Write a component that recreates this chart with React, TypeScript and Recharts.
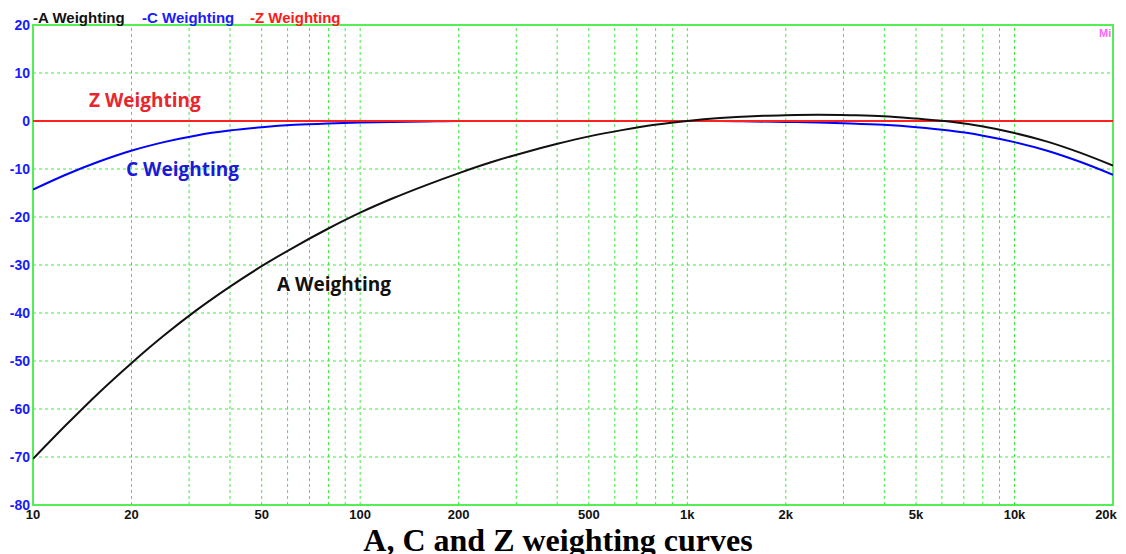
import { LineChart, Line, XAxis, YAxis, ReferenceLine, ReferenceArea } from 'recharts';

// 1/3-octave frequencies (Hz, exact base-10 bands)
const freqs = [
  10, 12.59, 15.85, 19.95, 25.12, 31.62, 39.81, 50.12, 63.1, 79.43, 100, 125.9, 158.5, 199.5, 251.2,
  316.2, 398.1, 501.2, 631, 794.3, 1000, 1259, 1585, 1995, 2512, 3162, 3981, 5012, 6310, 7943,
  10000, 12590, 15850, 20000,
];
const aWeight = [
  -70.4, -63.4, -56.7, -50.5, -44.7, -39.4, -34.6, -30.2, -26.2, -22.5, -19.1, -16.1, -13.4, -10.9,
  -8.6, -6.6, -4.8, -3.2, -1.9, -0.8, 0, 0.6, 1.0, 1.2, 1.3, 1.2, 1.0, 0.5, -0.1, -1.1, -2.5, -4.3,
  -6.6, -9.3,
];
const cWeight = [
  -14.3, -11.2, -8.5, -6.2, -4.4, -3.0, -2.0, -1.3, -0.8, -0.5, -0.3, -0.2, -0.1, 0, 0, 0, 0, 0, 0,
  0, 0, 0, -0.1, -0.2, -0.3, -0.5, -0.8, -1.3, -2.0, -3.0, -4.4, -6.2, -8.5, -11.2,
];
const zWeight = freqs.map(() => 0);

const xTicks = [10, 20, 50, 100, 200, 500, 1000, 2000, 5000, 10000, 20000];
const xTickLabels = ['10', '20', '50', '100', '200', '500', '1k', '2k', '5k', '10k', '20k'];
const yTicks = [-80, -70, -60, -50, -40, -30, -20, -10, 0, 10, 20];

const chartData = freqs.map((f, i) => ({ f, a: aWeight[i], c: cWeight[i], z: zWeight[i] }));

// minor grid: 20..90, 100..900, 1k..9k, 10k
const gridFreqs: number[] = [];
[10, 100, 1000].forEach((d) => {
  for (let m = 2; m <= 10; m++) gridFreqs.push(d * m);
});
const gridLevels = [-70, -60, -50, -40, -30, -20, -10, 10];

const GRID = '#3cee3c';
const SANS = '"Liberation Sans", Arial, sans-serif';

const XTick = (props: any) => {
  const { x, payload } = props;
  const idx = xTicks.indexOf(payload.value);
  return (
    <text x={x} y={519} textAnchor="middle" fontFamily={SANS} fontWeight="bold" fontSize={13} fill="#111">
      {xTickLabels[idx]}
    </text>
  );
};

const YTick = (props: any) => {
  const { y, payload } = props;
  return (
    <text x={30} y={y + 5} textAnchor="end" fontFamily={SANS} fontWeight="bold" fontSize={14} fill="#1a1aff">
      {payload.value}
    </text>
  );
};

const labelStyle = {
  position: 'absolute' as const,
  fontFamily: '"Open Sans", sans-serif',
  fontWeight: 'bold' as const,
  fontSize: 19,
  lineHeight: '19px',
  whiteSpace: 'nowrap' as const,
};

export default function App() {
  return (
    <div style={{ position: 'absolute', left: 0, top: 0, width: 1126, height: 554, background: '#fff', overflow: 'hidden' }}>
      <LineChart width={1126} height={554} data={chartData} margin={{ top: 25, right: 13, bottom: 0, left: 0 }}>
        <XAxis
          dataKey="f"
          type="number"
          scale="log"
          domain={[10, 20000]}
          ticks={xTicks}
          tick={<XTick />}
          tickLine={false}
          axisLine={false}
          height={49}
          allowDataOverflow
        />
        <YAxis
          type="number"
          domain={[-80, 20]}
          ticks={yTicks}
          tick={<YTick />}
          tickLine={false}
          axisLine={false}
          width={33}
          interval={0}
        />
        {gridLevels.map((v) => (
          <ReferenceLine key={'h' + v} y={v} stroke={GRID} strokeDasharray="3 3" strokeWidth={1} />
        ))}
        {gridFreqs.map((f) => (
          <ReferenceLine key={'v' + f} x={f} stroke={GRID} strokeDasharray="3 3" strokeWidth={1} />
        ))}
        <ReferenceArea x1={10} x2={20000} y1={-80} y2={20} stroke="#55ee55" strokeWidth={2} fill="none" fillOpacity={0} />
        <Line dataKey="c" type="monotone" stroke="#0000ff" strokeWidth={2} dot={false} isAnimationActive={false} />
        <Line dataKey="z" type="linear" stroke="#ff2020" strokeWidth={2} dot={false} isAnimationActive={false} />
        <Line dataKey="a" type="monotone" stroke="#111" strokeWidth={2} dot={false} isAnimationActive={false} />
      </LineChart>

      {/* legend */}
      <div style={{ position: 'absolute', top: 10, left: 33, fontFamily: SANS, fontWeight: 'bold', fontSize: 15, lineHeight: '16px', whiteSpace: 'nowrap' }}>
        <span style={{ position: 'absolute', left: 0, color: '#111' }}>-A Weighting</span>
        <span style={{ position: 'absolute', left: 109, color: '#1a1aff' }}>-C Weighting</span>
        <span style={{ position: 'absolute', left: 217, color: '#ff1a1a' }}>-Z Weighting</span>
      </div>
      <div style={{ position: 'absolute', top: 27, left: 1099, fontFamily: SANS, fontWeight: 'bold', fontSize: 11, color: '#ff66ff' }}>Mi</div>

      {/* curve annotations */}
      <div style={{ ...labelStyle, left: 89, top: 91, color: '#e8262e' }}>Z Weighting</div>
      <div style={{ ...labelStyle, left: 126, top: 160, color: '#1a1ad8' }}>C Weighting</div>
      <div style={{ ...labelStyle, left: 277, top: 275, color: '#111' }}>A Weighting</div>

      {/* caption */}
      <div
        style={{
          position: 'absolute',
          left: 0,
          width: 1116,
          top: 522,
          textAlign: 'center',
          fontFamily: '"Liberation Serif", "Times New Roman", serif',
          fontWeight: 'bold',
          fontSize: 32,
          lineHeight: '36px',
          color: '#000',
        }}
      >
        A, C and Z weighting curves
      </div>
    </div>
  );
}
